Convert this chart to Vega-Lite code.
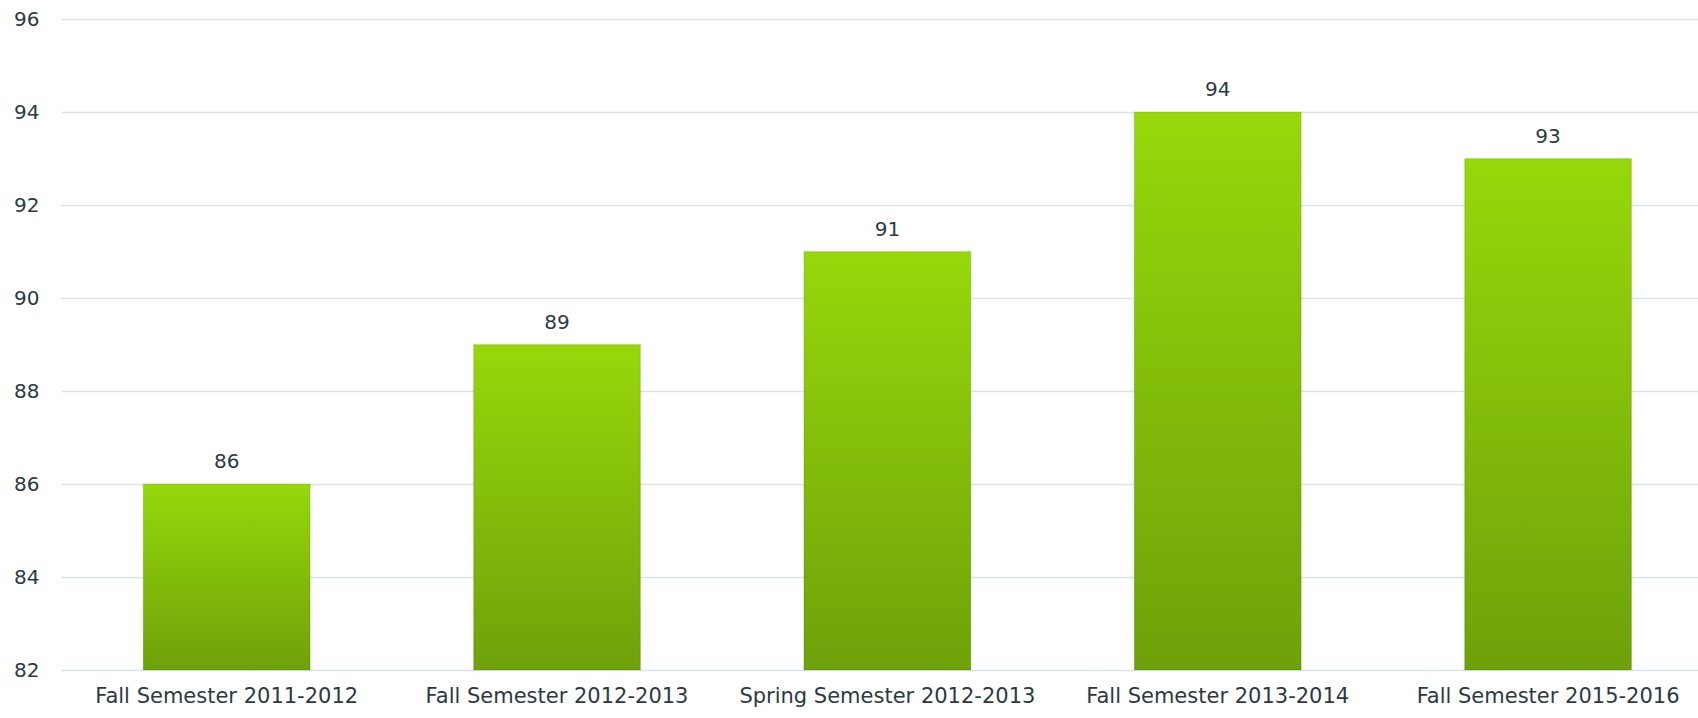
{
  "$schema": "https://vega.github.io/schema/vega-lite/v6.json",
  "width": 1637,
  "height": 651,
  "autosize": {"type": "none"},
  "padding": {"left": 61, "top": 19, "right": 0, "bottom": 48},
  "config": {"view": {"stroke": null}, "font": "DejaVu Sans"},
  "data": {
    "values": [
      {"semester": "Fall Semester 2011-2012", "value": 86},
      {"semester": "Fall Semester 2012-2013", "value": 89},
      {"semester": "Spring Semester 2012-2013", "value": 91},
      {"semester": "Fall Semester 2013-2014", "value": 94},
      {"semester": "Fall Semester 2015-2016", "value": 93}
    ]
  },
  "encoding": {
    "x": {
      "field": "semester",
      "type": "nominal",
      "sort": null,
      "scale": {"paddingInner": 0.4946, "paddingOuter": 0.225, "align": 0.553},
      "axis": {
        "title": null,
        "labelAngle": 0,
        "labelFontSize": 21,
        "labelColor": "#2b3a42",
        "labelLimit": 0,
        "ticks": false,
        "domain": false,
        "grid": false,
        "labelPadding": 15
      }
    },
    "y": {
      "field": "value",
      "type": "quantitative",
      "scale": {"domain": [82, 96], "nice": false, "zero": false},
      "axis": {
        "title": null,
        "values": [82, 84, 86, 88, 90, 92, 94, 96],
        "labelFontSize": 20,
        "labelColor": "#2b3a42",
        "ticks": false,
        "domain": false,
        "grid": true,
        "gridColor": "#dae4e7",
        "gridWidth": 1.5,
        "labelPadding": 22
      }
    }
  },
  "layer": [
    {
      "mark": {
        "type": "bar",
        "stroke": "#000000",
        "strokeOpacity": 0.06,
        "strokeWidth": 2,
        "color": {
          "gradient": "linear",
          "x1": 0, "y1": 0, "x2": 0, "y2": 1,
          "stops": [
            {"offset": 0, "color": "#97d80b"},
            {"offset": 1, "color": "#6ea10a"}
          ]
        }
      },
      "encoding": {"y2": {"datum": 82}}
    },
    {
      "mark": {"type": "text", "dy": -16, "baseline": "alphabetic", "fontSize": 20, "color": "#2b3a42"},
      "encoding": {"text": {"field": "value", "type": "quantitative"}}
    }
  ]
}
